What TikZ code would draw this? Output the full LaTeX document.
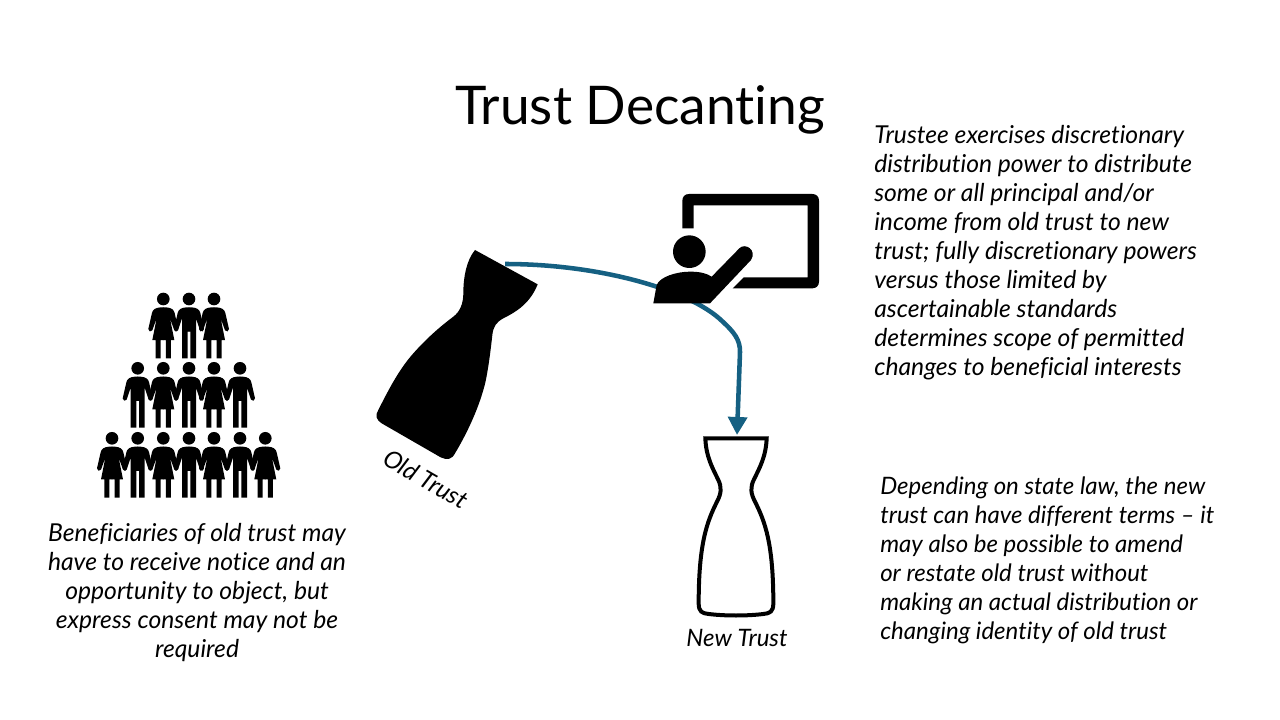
\documentclass[tikz,border=0pt]{standalone}
\usepackage{fontspec}
\setmainfont[Ligatures=NoCommon]{Lato}
\usetikzlibrary{arrows.meta}
\definecolor{flowblue}{HTML}{156082}
\tikzset{
  x=0.75pt,y=-0.75pt,
  zoomunits/.style={xscale=1/3,yscale=1/3},
  bodytext/.style={font=\fontsize{18.5pt}{21.67pt}\selectfont\itshape,inner sep=0pt,text depth=0pt},
  blockleft/.style={bodytext,anchor=base west,align=left},
  blockcenter/.style={bodytext,anchor=base,align=center},
  flowline/.style={draw=flowblue,line width=3.4pt,-{Triangle[length=13.5pt,width=14pt]}},
  man/.pic={
    \begin{scope}[zoomunits]
    \fill (0,0) circle (19);
    \foreach \s in {1,-1}{
      \fill[xscale=\s] (-1,25) -- (8,25) .. controls (24,26) and (32,32) .. (34,42) -- (45,90)
        .. controls (46,97) and (36,101) .. (33,94) -- (21,58) -- (21,178) -- (4,178) -- (4,98) -- (-1,98) -- cycle;
    }
    \end{scope}
  },
  woman/.pic={
    \begin{scope}[zoomunits]
    \fill (0,0) circle (19);
    \foreach \s in {1,-1}{
      \fill[xscale=\s] (-1,25) -- (8,25) .. controls (24,26) and (32,32) .. (34,42) -- (45,90)
        .. controls (46,97) and (36,101) .. (33,94) -- (20,58) -- (33,123) -- (23,123) -- (23,178) -- (8,178) -- (8,123) -- (-1,123) -- cycle;
    }
    \end{scope}
  }
}
\begin{document}
\begin{tikzpicture}
\useasboundingbox (0,0) rectangle (1280,720);
\fill[white] (0,0) rectangle (1280,720);

\node[anchor=base,inner sep=0pt,font=\fontsize{40pt}{48pt}\selectfont] (title) at (640,125) {Trust Decanting};

% people
\foreach \px/\py in {163.3/299,214/299,163.3/368.3,214/368.3,112/438.3,163.3/438.3,214/438.3,265.3/438.3}{
  \pic at (\px,\py) {woman};
}
\foreach \px/\py in {189/299,137.7/368.3,189/368.3,240/368.3,137.7/438.3,189/438.3,240/438.3}{
  \pic at (\px,\py) {man};
}

% old bottle
\begin{scope}[shift={(370,240)},zoomunits]
\fill (315,30) -- (503,133) .. controls (480,190) and (440,215) .. (400,235)
  .. controls (378,247) and (370,260) .. (367,285)
  .. controls (360,350) and (350,420) .. (340,450)
  .. controls (320,520) and (285,590) .. (255,640)
  .. controls (245,660) and (230,660) .. (212,652)
  -- (35,550) .. controls (18,540) and (15,525) .. (25,510)
  .. controls (60,440) and (90,385) .. (130,340)
  .. controls (170,295) and (210,260) .. (250,230)
  .. controls (270,215) and (280,190) .. (280,160)
  .. controls (280,110) and (290,60) .. (315,30) -- cycle;
\end{scope}

% new bottle
\begin{scope}[shift={(680,400)},zoomunits]
\draw[line width=3pt,line join=miter]
  (76,115) -- (260,115) .. controls (258,170) and (238,205) .. (222,238)
  .. controls (210,262) and (212,280) .. (225,305)
  .. controls (255,365) and (280,430) .. (280,610)
  .. controls (280,635) and (270,640) .. (250,642)
  .. controls (200,648) and (136,648) .. (86,642)
  .. controls (66,640) and (56,635) .. (56,610)
  .. controls (56,430) and (81,365) .. (111,305)
  .. controls (124,280) and (126,262) .. (114,238)
  .. controls (98,205) and (78,170) .. (76,115) -- cycle;
\end{scope}

% connector
\coordinate (oldmouth) at (505,264);
\coordinate (bend) at (740,352);
\coordinate (newmouth) at (737,435);
\draw[flowline] (oldmouth) .. controls (600,264) and (690,290) .. (722,321)
  .. controls (735,333) and (740,340) .. (bend) -- (newmouth);

% presenter
\begin{scope}[shift={(640,185)},zoomunits]
\fill (127,130) -- (127,47) .. controls (127,35) and (135,27) .. (147,27)
  -- (517,27) .. controls (529,27) and (537,35) .. (537,47)
  -- (537,290) .. controls (537,302) and (529,310) .. (517,310)
  -- (278,310) -- (311,277) -- (503,277) -- (503,61) -- (161,61) -- (161,130) -- cycle;
\fill (148,200) circle (49);
\fill (40,355) -- (50,300) .. controls (60,275) and (110,260) .. (150,260)
  .. controls (180,260) and (200,265) .. (215,275) -- (298,190)
  .. controls (315,172) and (352,195) .. (333,225) -- (210,355) -- cycle;
\end{scope}

% labels
\node[blockcenter,font=\fontsize{18.3pt}{21.67pt}\selectfont\itshape,rotate=-30,anchor=center] (oldlabel) at (426,479) {Old Trust};
\node[blockcenter,font=\fontsize{18pt}{21.67pt}\selectfont\itshape] (newlabel) at (737,646) {New Trust};
\node[blockleft,anchor=north west] (trustee) at (874,125.5) {Trustee exercises discretionary\\distribution power to distribute\\some or all principal and/or\\income from old trust to new\\trust; fully discretionary powers\\versus those limited by\\ascertainable standards\\determines scope of permitted\\changes to beneficial interests};
\node[blockleft,anchor=north west,font=\fontsize{18pt}{21.67pt}\selectfont\itshape] (state) at (880,477) {Depending on state law, the new\\trust can have different terms -- it\\may also be possible to amend\\or restate old trust without\\making an actual distribution or\\changing identity of old trust};
\node[blockcenter,anchor=north] (benef) at (197,523.5) {Beneficiaries of old trust may\\have to receive notice and an\\opportunity to object, but\\express consent may not be\\required};
\end{tikzpicture}
\end{document}
